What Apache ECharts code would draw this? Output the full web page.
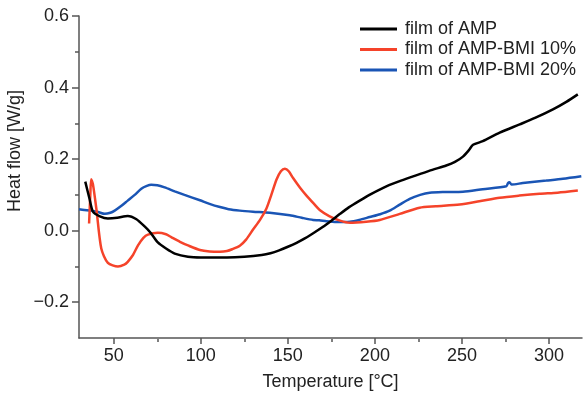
<!DOCTYPE html>
<html><head><meta charset="utf-8">
<script src="https://cdn.jsdelivr.net/npm/echarts@6/dist/echarts.min.js"></script>
<style>html,body{margin:0;padding:0;background:#fff}#c{width:584px;height:396px}</style>
</head><body><div id="c"></div>
<script>
const seriesNames = ['film of AMP', 'film of AMP-BMI 10%', 'film of AMP-BMI 20%'];

const ampT = [33.6, 36, 38, 42, 46.6, 52, 58, 63, 67.7, 71, 75.3, 80, 85, 92.6, 100, 105, 115, 125, 135, 140, 145, 150, 155, 160, 165, 170, 175, 180, 185, 191.3, 198, 206.6, 215, 225.7, 233, 241, 246, 250.6, 254, 256.4, 262, 271.7, 283.2, 292, 302.3, 310, 316.6];
const ampV = [0.137, 0.09, 0.053, 0.04, 0.034, 0.036, 0.041, 0.032, 0.012, -0.005, -0.033, -0.05, -0.064, -0.073, -0.075, -0.075, -0.075, -0.073, -0.068, -0.063, -0.055, -0.045, -0.034, -0.021, -0.006, 0.01, 0.028, 0.047, 0.065, 0.084, 0.103, 0.124, 0.14, 0.158, 0.17, 0.182, 0.192, 0.207, 0.225, 0.24, 0.25, 0.274, 0.297, 0.315, 0.339, 0.36, 0.381];

const bmi10T = [35.8, 36.5, 37, 38, 40, 42.8, 46.6, 52.4, 56, 58, 61, 63.9, 67, 69.6, 75.3, 80, 83, 88, 93, 99.5, 105, 111, 115, 118, 122.4, 126, 130, 134, 137.7, 140.5, 143.5, 146, 148.3, 150.5, 153, 157, 160.7, 165, 168.3, 174, 180, 185.6, 195, 202.8, 214.3, 225.7, 235, 248.7, 260, 271.7, 283, 294.6, 305, 316.6];
const bmi10V = [0.02, 0.1, 0.144, 0.13, 0.06, -0.05, -0.09, -0.1, -0.095, -0.087, -0.068, -0.041, -0.02, -0.011, -0.006, -0.01, -0.018, -0.031, -0.042, -0.054, -0.058, -0.059, -0.057, -0.052, -0.042, -0.025, 0.003, 0.03, 0.062, 0.1, 0.143, 0.166, 0.173, 0.166, 0.147, 0.12, 0.098, 0.075, 0.058, 0.04, 0.028, 0.022, 0.025, 0.03, 0.047, 0.064, 0.068, 0.073, 0.082, 0.092, 0.098, 0.103, 0.106, 0.112];

const bmi20T = [30, 33, 37, 41, 44.8, 48, 50.5, 54, 58, 62, 65.8, 69, 71.5, 75, 79.2, 85, 90.6, 99.5, 105, 111, 116, 122.4, 130, 139.6, 151.1, 158, 164.5, 168, 172.2, 178, 185.6, 191, 197, 203, 208.5, 214, 220, 226, 231.5, 240, 250.6, 262, 275.5, 276.5, 277.4, 278.5, 285, 298.5, 308, 318.6];
const bmi20V = [0.06, 0.058, 0.056, 0.052, 0.047, 0.05, 0.056, 0.068, 0.084, 0.1, 0.117, 0.125, 0.128, 0.127, 0.121, 0.11, 0.1, 0.085, 0.075, 0.066, 0.06, 0.056, 0.053, 0.05, 0.043, 0.036, 0.03, 0.029, 0.026, 0.024, 0.025, 0.03, 0.038, 0.046, 0.056, 0.072, 0.089, 0.1, 0.106, 0.108, 0.109, 0.116, 0.124, 0.133, 0.135, 0.129, 0.133, 0.14, 0.145, 0.152];

const xMajorTicks = [50, 100, 150, 200, 250, 300];
const xMinorTicks = [75, 125, 175, 225, 275];
const yMajorTicks = [-0.2, 0, 0.2, 0.4, 0.6];
const yMinorTicks = [-0.1, 0.1, 0.3, 0.5];

const colors = ['#000000', '#f5432a', '#1a55b5'];
const FONT = 'Liberation Sans, Arial, Helvetica, sans-serif';
const AX = '#555555';
const GRID = {left: 79, right: 2, top: 16, bottom: 57};
const PLOT_H = 396 - GRID.top - GRID.bottom;

function pairs(t, v) { return t.map((x, i) => [x, v[i]]); }
function fmtY(v) { return (v < 0 ? '\u2212' : '') + Math.abs(v).toFixed(1); }

const chart = echarts.init(document.getElementById('c'), null, {renderer: 'canvas'});
const xCommon = {type: 'value', min: 30, max: 319, splitLine: {show: false}};
const yCommon = {type: 'value', min: -0.3, max: 0.6, position: 'left', splitLine: {show: false}};
chart.setOption({
  animation: false,
  backgroundColor: '#ffffff',
  grid: Object.assign({containLabel: false}, GRID),
  legend: {
    orient: 'vertical', left: 355, top: 15, itemWidth: 37, itemHeight: 3, itemGap: 2.5,
    icon: 'rect',
    data: seriesNames,
    textStyle: {fontFamily: FONT, fontSize: 18, color: '#222', lineHeight: 18, padding: [0, 0, 0, 3]}
  },
  xAxis: [
    Object.assign({}, xCommon, {
      position: 'bottom',
      name: 'Temperature [\u00b0C]', nameLocation: 'middle', nameGap: 35,
      nameTextStyle: {fontFamily: FONT, fontSize: 18, color: '#222'},
      axisLine: {show: true, onZero: false, lineStyle: {color: AX, width: 1.5}},
      axisTick: {show: true, length: 6, customValues: xMajorTicks, lineStyle: {color: AX, width: 1.5}},
      axisLabel: {show: true, customValues: xMajorTicks, margin: 9, fontFamily: FONT, fontSize: 18, color: '#222'}
    }),
    Object.assign({}, xCommon, {
      position: 'top', offset: -PLOT_H,
      axisLine: {show: false, onZero: false},
      axisTick: {show: true, inside: true, length: 3, customValues: xMinorTicks, lineStyle: {color: AX, width: 1.5}},
      axisLabel: {show: false}
    })
  ],
  yAxis: [
    Object.assign({}, yCommon, {
      axisLine: {show: true, onZero: false, lineStyle: {color: AX, width: 1.5}},
      axisTick: {show: true, length: 7, customValues: yMajorTicks, lineStyle: {color: AX, width: 1.5}},
      axisLabel: {show: true, customValues: yMajorTicks, margin: 10, formatter: fmtY, fontFamily: FONT, fontSize: 18, color: '#222'}
    }),
    Object.assign({}, yCommon, {
      axisLine: {show: false, onZero: false},
      axisTick: {show: true, length: 4, customValues: yMinorTicks, lineStyle: {color: AX, width: 1.5}},
      axisLabel: {show: false}
    })
  ],
  graphic: [{
    type: 'text', x: 15, y: 151, rotation: Math.PI / 2,
    style: {text: 'Heat flow [W/g]', font: '18px ' + FONT, fill: '#222', align: 'center', verticalAlign: 'middle'}
  }],
  series: [
    {name: seriesNames[0], type: 'line', data: pairs(ampT, ampV), symbol: 'none', smooth: 0.25, lineStyle: {color: colors[0], width: 2.5}, itemStyle: {color: colors[0]}, z: 3},
    {name: seriesNames[1], type: 'line', data: pairs(bmi10T, bmi10V), symbol: 'none', smooth: 0.25, lineStyle: {color: colors[1], width: 2.5}, itemStyle: {color: colors[1]}, z: 2},
    {name: seriesNames[2], type: 'line', data: pairs(bmi20T, bmi20V), symbol: 'none', smooth: 0.25, lineStyle: {color: colors[2], width: 2.5}, itemStyle: {color: colors[2]}, z: 1}
  ]
});
</script>
</body></html>
